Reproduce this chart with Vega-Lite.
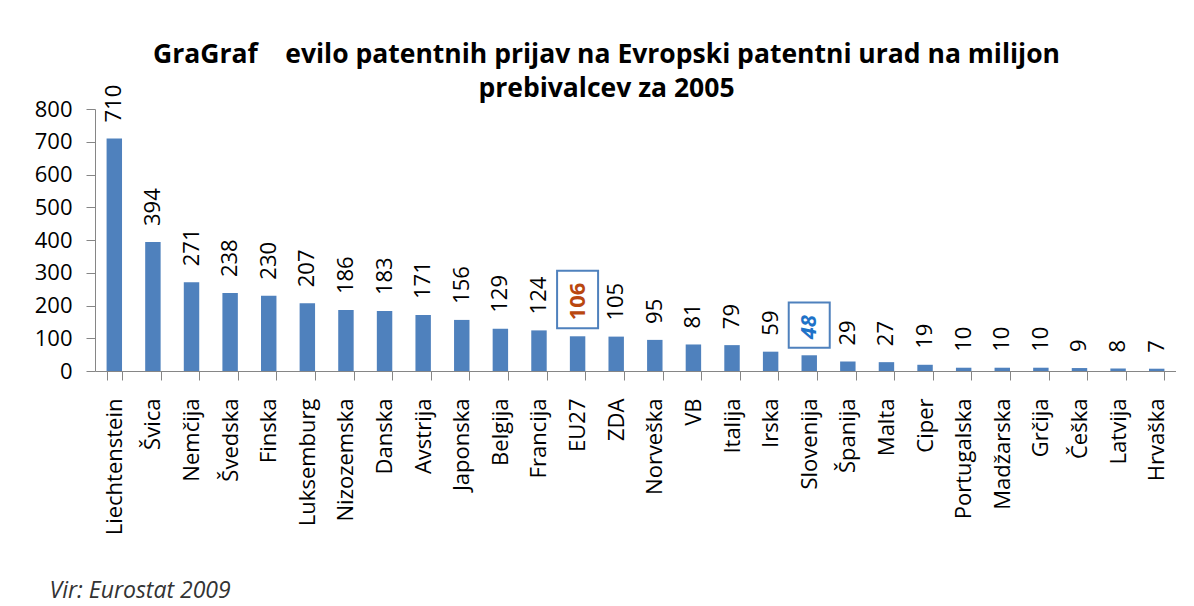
{
  "$schema": "https://vega.github.io/schema/vega-lite/v6.json",
  "width": 1081,
  "height": 262,
  "padding": {"left": 34, "top": 42, "right": 0, "bottom": 12},
  "autosize": {"type": "pad"},
  "background": "white",
  "config": {"view": {"stroke": null}, "font": "Open Sans"},
  "title": {
    "text": ["GraGraf\u00a0\u00a0\u00a0\u00a0evilo patentnih prijav na Evropski patentni urad na milijon", "prebivalcev za 2005"],
    "font": "Open Sans",
    "fontSize": 26.5,
    "fontWeight": "bold",
    "color": "#000000",
    "lineHeight": 34,
    "anchor": "middle",
    "dx": -29,
    "frame": "group",
    "offset": -18
  },
  "data": {
    "values": [
      {"land": "Liechtenstein", "value": 710},
      {"land": "Švica", "value": 394},
      {"land": "Nemčija", "value": 271},
      {"land": "Švedska", "value": 238},
      {"land": "Finska", "value": 230},
      {"land": "Luksemburg", "value": 207},
      {"land": "Nizozemska", "value": 186},
      {"land": "Danska", "value": 183},
      {"land": "Avstrija", "value": 171},
      {"land": "Japonska", "value": 156},
      {"land": "Belgija", "value": 129},
      {"land": "Francija", "value": 124},
      {"land": "EU27", "value": 106},
      {"land": "ZDA", "value": 105},
      {"land": "Norveška", "value": 95},
      {"land": "VB", "value": 81},
      {"land": "Italija", "value": 79},
      {"land": "Irska", "value": 59},
      {"land": "Slovenija", "value": 48},
      {"land": "Španija", "value": 29},
      {"land": "Malta", "value": 27},
      {"land": "Ciper", "value": 19},
      {"land": "Portugalska", "value": 10},
      {"land": "Madžarska", "value": 10},
      {"land": "Grčija", "value": 10},
      {"land": "Češka", "value": 9},
      {"land": "Latvija", "value": 8},
      {"land": "Hrvaška", "value": 7}
    ]
  },
  "encoding": {
    "x": {
      "field": "land",
      "type": "nominal",
      "sort": null,
      "scale": {"paddingInner": 0.6, "paddingOuter": 0.3},
      "axis": {
        "title": "Vir: Eurostat 2009",
        "labelAngle": -90,
        "labelFont": "Open Sans",
        "labelFontSize": 22,
        "labelColor": "#000000",
        "labelPadding": 18,
        "domainColor": "#868686",
        "tickColor": "#868686",
        "tickSize": 9,
        "tickBand": "extent",
        "titleFont": "Open Sans",
        "titleFontStyle": "italic",
        "titleFontWeight": "normal",
        "titleFontSize": 23,
        "titleColor": "#333333",
        "titleAnchor": "start",
        "titleAlign": "left",
        "titleX": -46,
        "titleY": 226,
        "titleBaseline": "alphabetic"
      }
    },
    "y": {
      "field": "value",
      "type": "quantitative",
      "scale": {"domain": [0, 800], "nice": false},
      "axis": {
        "title": null,
        "values": [0, 100, 200, 300, 400, 500, 600, 700, 800],
        "labelFont": "Open Sans",
        "labelFontSize": 22,
        "labelColor": "#000000",
        "labelPadding": 14,
        "domainColor": "#868686",
        "tickColor": "#868686",
        "tickSize": 9,
        "grid": false
      }
    }
  },
  "layer": [
    {"mark": {"type": "bar", "color": "#4F81BD"}},
    {
      "transform": [{"filter": "datum.land != 'EU27' && datum.land != 'Slovenija'"}],
      "mark": {"type": "text", "angle": 270, "align": "left", "baseline": "middle", "dx": 16, "font": "Open Sans", "fontSize": 22, "color": "#000000"},
      "encoding": {"text": {"field": "value", "type": "quantitative"}}
    },
    {
      "transform": [{"filter": "datum.land == 'EU27'"}],
      "mark": {"type": "text", "angle": 270, "align": "left", "baseline": "middle", "dx": 16, "font": "Open Sans", "fontSize": 22, "fontWeight": "bold", "color": "#B9470F"},
      "encoding": {"text": {"field": "value", "type": "quantitative"}}
    },
    {
      "transform": [{"filter": "datum.land == 'Slovenija'"}],
      "mark": {"type": "text", "angle": 270, "align": "left", "baseline": "middle", "dx": 16, "font": "Open Sans", "fontSize": 22, "fontWeight": "bold", "fontStyle": "italic", "color": "#1E72C8"},
      "encoding": {"text": {"field": "value", "type": "quantitative"}}
    },
    {
      "transform": [{"filter": "datum.land == 'EU27' || datum.land == 'Slovenija'"}],
      "mark": {"type": "point", "filled": false, "stroke": "#4F81BD", "strokeWidth": 2, "size": 1681, "opacity": 1},
      "encoding": {
        "shape": {
          "field": "land",
          "type": "nominal",
          "scale": {"domain": ["EU27", "Slovenija"], "range": ["M-1,-3.2H1V-0.39H-1Z", "M-1,-2.58H1V-0.37H-1Z"]},
          "legend": null
        }
      }
    }
  ]
}
